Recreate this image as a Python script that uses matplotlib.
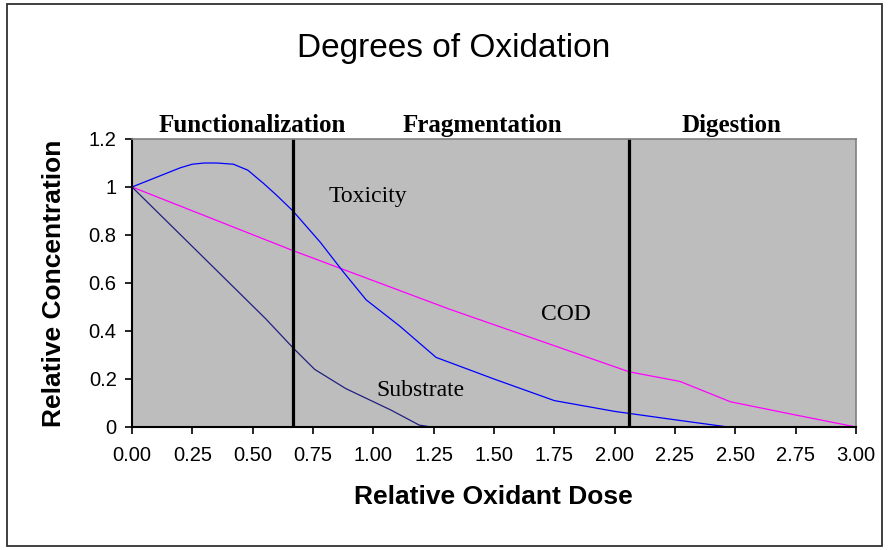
import matplotlib
matplotlib.use("Agg")
from matplotlib import pyplot as plt
from matplotlib.patches import Rectangle

# curve points
tox_x = [0.0, 0.1, 0.2, 0.25, 0.3, 0.35, 0.42, 0.48, 0.545, 0.6, 0.667, 0.78, 0.875, 0.97,
         1.11, 1.26, 1.5, 1.75, 2.0, 2.25, 2.47]
tox_y = [1.0, 1.04, 1.08, 1.095, 1.1, 1.1, 1.095, 1.07, 1.015, 0.965, 0.9, 0.77, 0.647, 0.53,
         0.42, 0.29, 0.2, 0.11, 0.065, 0.03, 0.0]

sub_x = [0.0, 0.555, 0.667, 0.757, 0.886, 1.074, 1.19, 1.24]
sub_y = [1.0, 0.45, 0.33, 0.24, 0.16, 0.07, 0.008, 0.0]

cod_x = [0.0, 0.667, 1.318, 2.06, 2.27, 2.48, 2.75, 3.0]
cod_y = [1.0, 0.735, 0.49, 0.23, 0.19, 0.105, 0.05, 0.0]

phase_bounds = [0.667, 2.06]
phase_names = ["Functionalization", "Fragmentation", "Digestion"]
phase_pos = [0.497, 1.45, 2.485]

x_ticks = [0.25 * i for i in range(13)]
y_ticks = [0, 0.2, 0.4, 0.6, 0.8, 1, 1.2]
y_tick_labels = ["0", "0.2", "0.4", "0.6", "0.8", "1", "1.2"]

W, H = 889, 550
fig = plt.figure(figsize=(W / 100, H / 100), dpi=100)
fig.patch.set_facecolor("white")
# outer chart frame
fig.patches.append(Rectangle((7 / W, 1 - 546 / H), 875 / W, 542 / H, transform=fig.transFigure,
                             fill=False, edgecolor="#303030", linewidth=1.3))

ax = fig.add_axes([132 / W, 1 - 427 / H, 724 / W, 288 / H])
ax.set_facecolor("#BDBDBD")

ax.plot(cod_x, cod_y, color="#FF00FF", linewidth=0.9)
ax.plot(tox_x, tox_y, color="#0000FF", linewidth=0.9)
ax.plot(sub_x, sub_y, color="#202080", linewidth=0.9)

for b in phase_bounds:
    ax.axvline(b, color="black", linewidth=2.3)

serif = ["Liberation Serif", "DejaVu Serif"]
for name, px in zip(phase_names, phase_pos):
    ax.text(px, 1.229, name, ha="center", va="baseline", family=serif,
            fontweight="bold", fontsize=18, clip_on=False)

ax.text(0.976, 0.962, "Toxicity", family=serif, fontsize=17, ha="center", va="center")
ax.text(1.80, 0.467, "COD", family=serif, fontsize=17, ha="center", va="center")
ax.text(1.196, 0.154, "Substrate", family=serif, fontsize=17, ha="center", va="center")

ax.set_xlim(0, 3)
ax.set_ylim(0, 1.2)
ax.set_xticks(x_ticks)
ax.set_xticklabels(["%.2f" % v for v in x_ticks], family="Liberation Sans")
ax.set_yticks(y_ticks)
ax.set_yticklabels(y_tick_labels, family="Liberation Sans")
ax.tick_params(direction="out", length=5, width=1.2, labelsize=14.5)
ax.tick_params(axis="x", pad=9)
ax.tick_params(axis="y", pad=6)

for s in ["left", "bottom"]:
    ax.spines[s].set_color("black")
    ax.spines[s].set_linewidth(1.5)
for s in ["top", "right"]:
    ax.spines[s].set_color("#808080")
    ax.spines[s].set_linewidth(1.2)

ax.set_xlabel("Relative Oxidant Dose", fontsize=19, fontweight="bold",
              family="Liberation Sans", va="center")
ax.xaxis.set_label_coords(0.4986, -0.243)
ax.set_ylabel("Relative Concentration", fontsize=19, fontweight="bold",
              family="Liberation Sans", va="center")
ax.yaxis.set_label_coords(-0.1077, 0.498)

fig.text(453.5 / W, 1 - 57 / H, "Degrees of Oxidation", ha="center", va="baseline",
         fontsize=24, family="Liberation Sans")

fig.savefig("out.png", dpi=100)
